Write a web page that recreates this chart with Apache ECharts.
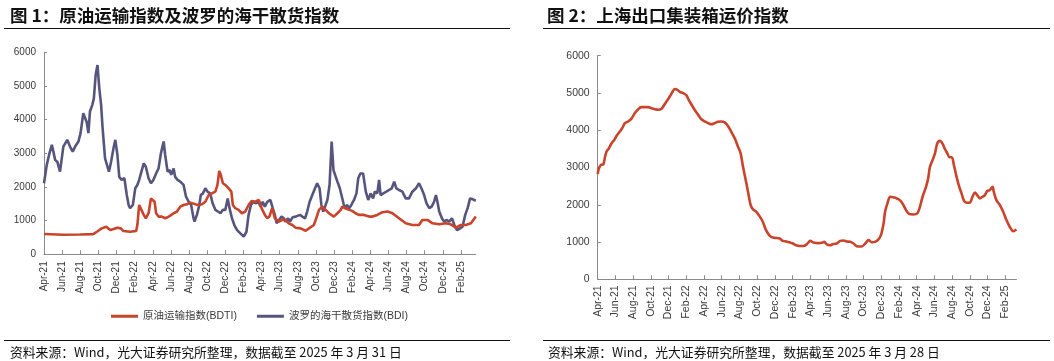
<!DOCTYPE html>
<html><head><meta charset="utf-8">
<script src="https://cdn.jsdelivr.net/npm/echarts@6/dist/echarts.min.js"></script>
<style>html,body{margin:0;padding:0;background:#fff}#c{width:1054px;height:361px}</style>
</head><body><div id="c"></div>
<script>
const xTickLabels = ['Apr-21','Jun-21','Aug-21','Oct-21','Dec-21','Feb-22','Apr-22','Jun-22','Aug-22','Oct-22','Dec-22','Feb-23','Apr-23','Jun-23','Aug-23','Oct-23','Dec-23','Feb-24','Apr-24','Jun-24','Aug-24','Oct-24','Dec-24','Feb-25'];
const yTickValues = [0,1000,2000,3000,4000,5000,6000];

const bdiDates = ['2021-04-01','2021-04-10','2021-04-19','2021-04-27','2021-05-02','2021-05-08','2021-05-15','2021-05-24','2021-05-30','2021-06-05','2021-06-11','2021-06-18','2021-06-27','2021-07-06','2021-07-14','2021-07-25','2021-08-02','2021-08-11','2021-08-17','2021-08-22','2021-08-28','2021-09-03','2021-09-11','2021-09-16','2021-09-22','2021-09-28','2021-10-04','2021-10-10','2021-10-15','2021-10-23','2021-10-29','2021-11-06','2021-11-13','2021-11-21','2021-11-27','2021-12-04','2021-12-10','2021-12-18','2021-12-27','2022-01-05','2022-01-11','2022-01-16','2022-01-25','2022-02-03','2022-02-10','2022-02-16','2022-02-22','2022-03-01','2022-03-08','2022-03-17','2022-03-25','2022-04-03','2022-04-12','2022-04-20','2022-04-28','2022-05-07','2022-05-12','2022-05-20','2022-05-27','2022-06-02','2022-06-10','2022-06-15','2022-06-23','2022-07-02','2022-07-07','2022-07-13','2022-07-21','2022-07-30','2022-08-08','2022-08-16','2022-08-19','2022-08-27','2022-09-05','2022-09-10','2022-09-17','2022-09-25','2022-10-02','2022-10-11','2022-10-19','2022-10-28','2022-11-07','2022-11-15','2022-11-23','2022-12-01','2022-12-09','2022-12-15','2022-12-23','2022-12-31','2023-01-10','2023-01-21','2023-02-02','2023-02-11','2023-02-18','2023-02-26','2023-03-05','2023-03-13','2023-03-20','2023-03-28','2023-04-05','2023-04-12','2023-04-20','2023-04-30','2023-05-08','2023-05-15','2023-05-21','2023-05-29','2023-06-07','2023-06-15','2023-06-20','2023-06-29','2023-07-05','2023-07-13','2023-07-24','2023-08-08','2023-08-16','2023-08-25','2023-09-02','2023-09-10','2023-09-19','2023-09-28','2023-10-05','2023-10-13','2023-10-19','2023-10-25','2023-11-01','2023-11-09','2023-11-16','2023-11-23','2023-11-29','2023-12-04','2023-12-12','2023-12-20','2023-12-26','2024-01-02','2024-01-07','2024-01-14','2024-01-21','2024-01-28','2024-02-07','2024-02-15','2024-02-21','2024-02-28','2024-03-07','2024-03-16','2024-03-24','2024-04-02','2024-04-10','2024-04-16','2024-04-24','2024-04-30','2024-05-05','2024-05-14','2024-05-24','2024-06-03','2024-06-12','2024-06-20','2024-06-27','2024-07-06','2024-07-17','2024-07-28','2024-08-09','2024-08-20','2024-09-02','2024-09-12','2024-09-20','2024-09-29','2024-10-07','2024-10-16','2024-10-24','2024-11-02','2024-11-08','2024-11-13','2024-11-19','2024-11-28','2024-12-05','2024-12-13','2024-12-22','2025-01-01','2025-01-09','2025-01-18','2025-01-28','2025-02-06','2025-02-15','2025-02-23','2025-03-01','2025-03-09','2025-03-20'];
const bdiValues = [2110,2650,3000,3250,3050,2800,2750,2455,2400,3200,3250,3400,3200,3050,3200,3350,3600,4190,4240,3940,3600,4240,4440,4630,5330,5620,4930,4440,3740,2850,2800,2455,2750,3150,3400,2950,2300,2210,2260,1760,1465,1370,1465,1960,2060,2210,2210,2700,2600,2260,2110,2210,2400,2550,3000,3350,2950,2455,2500,2360,2550,2300,2210,2160,2160,2060,1710,1560,1465,1070,970,1170,1465,1760,1810,1960,1860,1810,1515,1320,1270,1220,1320,1320,1660,1370,1070,870,720,620,525,670,1170,1465,1560,1515,1560,1415,1560,1415,1560,1615,1370,1170,920,1020,1120,1070,970,1070,970,1090,1120,1170,1120,1070,1270,1560,1760,1960,2110,1960,1465,1270,1415,1615,2060,3350,2500,2455,2160,1960,1910,1515,1370,1465,1370,1465,1615,1810,2260,2400,2400,1860,1615,1810,1660,1860,1810,2210,1760,1810,1860,1910,1960,2160,1960,1910,1860,1660,1660,1860,1960,2110,1960,1760,1515,1370,1415,1560,1760,1560,1270,1070,970,1020,970,1070,870,720,770,820,1170,1370,1660,1640,1590];

const bdtiDates = ['2021-04-01','2021-06-05','2021-07-31','2021-09-14','2021-09-26','2021-10-12','2021-10-27','2021-11-10','2021-11-21','2021-12-04','2021-12-15','2021-12-24','2022-01-16','2022-02-06','2022-02-10','2022-02-16','2022-02-22','2022-03-01','2022-03-08','2022-03-17','2022-03-25','2022-04-01','2022-04-07','2022-04-12','2022-04-20','2022-05-01','2022-05-12','2022-05-20','2022-05-29','2022-06-10','2022-06-21','2022-07-02','2022-07-13','2022-07-24','2022-08-05','2022-08-22','2022-09-02','2022-09-14','2022-09-25','2022-10-06','2022-10-17','2022-10-28','2022-11-05','2022-11-11','2022-11-16','2022-11-23','2022-12-01','2022-12-12','2022-12-21','2022-12-26','2023-01-04','2023-01-15','2023-01-26','2023-02-07','2023-02-18','2023-02-28','2023-03-10','2023-03-22','2023-04-01','2023-04-12','2023-04-20','2023-04-27','2023-05-06','2023-05-15','2023-05-29','2023-06-09','2023-06-20','2023-07-01','2023-07-13','2023-07-24','2023-08-10','2023-08-27','2023-09-08','2023-09-24','2023-10-02','2023-10-11','2023-10-22','2023-11-03','2023-11-14','2023-11-30','2023-12-12','2023-12-23','2023-12-28','2024-01-07','2024-01-21','2024-02-01','2024-02-12','2024-02-23','2024-03-10','2024-03-27','2024-04-08','2024-04-24','2024-05-11','2024-05-28','2024-06-14','2024-07-06','2024-07-28','2024-08-20','2024-09-12','2024-09-23','2024-10-10','2024-10-27','2024-11-19','2024-12-11','2024-12-27','2025-01-14','2025-01-31','2025-02-17','2025-03-04','2025-03-20'];
const bdtiValues = [605,580,590,600,670,770,820,720,750,790,770,690,670,690,870,1465,1485,1170,1070,1220,1660,1710,1560,1220,1120,1120,1070,1100,1150,1220,1270,1415,1465,1485,1535,1485,1465,1485,1560,1760,1810,1860,2060,2475,2360,2110,2060,1960,1860,1465,1370,1320,1220,1270,1465,1580,1560,1615,1370,1170,1070,1120,1370,1070,970,1020,1020,920,870,790,770,700,770,870,1070,1320,1415,1320,1220,1120,1220,1320,1415,1370,1320,1290,1220,1170,1170,1120,1120,1170,1250,1270,1220,1070,920,870,870,1020,1020,920,890,920,890,790,870,870,920,1120];

const scfiDates = ['2021-04-01','2021-04-05','2021-04-12','2021-04-20','2021-04-26','2021-05-01','2021-05-09','2021-05-18','2021-05-27','2021-06-05','2021-06-16','2021-06-24','2021-07-03','2021-07-14','2021-07-26','2021-08-07','2021-08-18','2021-08-29','2021-09-11','2021-09-22','2021-10-03','2021-10-14','2021-10-26','2021-11-05','2021-11-13','2021-11-24','2021-12-05','2021-12-13','2021-12-22','2022-01-01','2022-01-09','2022-01-20','2022-02-01','2022-02-09','2022-02-17','2022-02-28','2022-03-11','2022-03-22','2022-04-03','2022-04-15','2022-04-26','2022-05-07','2022-05-18','2022-05-30','2022-06-11','2022-06-22','2022-07-03','2022-07-15','2022-07-26','2022-08-05','2022-08-13','2022-08-21','2022-08-30','2022-09-09','2022-09-17','2022-09-28','2022-10-09','2022-10-20','2022-11-01','2022-11-13','2022-11-24','2022-12-05','2022-12-17','2022-12-28','2023-01-09','2023-01-20','2023-02-02','2023-02-13','2023-02-24','2023-03-08','2023-03-19','2023-04-01','2023-04-12','2023-04-29','2023-05-10','2023-05-18','2023-05-27','2023-06-08','2023-06-19','2023-07-01','2023-07-12','2023-07-23','2023-08-04','2023-08-16','2023-08-27','2023-09-08','2023-09-25','2023-10-07','2023-10-18','2023-10-29','2023-11-10','2023-11-21','2023-11-30','2023-12-09','2023-12-14','2023-12-22','2024-01-01','2024-01-12','2024-01-24','2024-02-04','2024-02-13','2024-02-24','2024-03-06','2024-03-20','2024-04-03','2024-04-12','2024-04-21','2024-05-03','2024-05-10','2024-05-16','2024-05-25','2024-06-03','2024-06-11','2024-06-20','2024-06-29','2024-07-07','2024-07-15','2024-07-22','2024-07-30','2024-08-07','2024-08-16','2024-08-25','2024-09-03','2024-09-11','2024-09-20','2024-10-01','2024-10-10','2024-10-18','2024-10-26','2024-11-05','2024-11-14','2024-11-22','2024-11-30','2024-12-09','2024-12-18','2024-12-22','2025-01-01','2025-01-13','2025-01-24','2025-02-05','2025-02-16','2025-02-28','2025-03-09'];
const scfiValues = [2825,2980,3070,3085,3290,3430,3515,3650,3740,3850,3965,4055,4190,4235,4320,4460,4565,4620,4620,4620,4590,4565,4550,4565,4640,4770,4905,5015,5105,5085,5030,4995,4940,4815,4710,4565,4415,4295,4235,4190,4160,4190,4225,4235,4210,4115,3965,3785,3560,3380,3020,2710,2350,1990,1875,1810,1695,1545,1320,1175,1120,1110,1095,1030,1015,995,960,915,895,895,940,1030,985,970,980,1005,935,915,950,960,1030,1040,1015,1005,960,890,880,960,1050,995,1005,1065,1185,1500,1810,2035,2215,2200,2170,2125,2035,1875,1750,1740,1765,1945,2215,2485,2710,3020,3200,3380,3650,3715,3635,3490,3380,3275,3275,3070,2755,2485,2305,2110,2055,2055,2215,2325,2260,2170,2215,2260,2370,2395,2485,2350,2125,1990,1810,1590,1410,1290,1335];

const seriesNames = ['原油运输指数(BDTI)', '波罗的海干散货指数(BDI)', '上海出口集装箱运价指数'];
const titles = ['图 1：原油运输指数及波罗的海干散货指数', '图 2：上海出口集装箱运价指数'];
const sources = ['资料来源：Wind，光大证券研究所整理，数据截至 2025 年 3 月 31 日', '资料来源：Wind，光大证券研究所整理，数据截至 2025 年 3 月 28 日'];

function monthOffset(d) {
  const p = d.split('-').map(Number);
  return (p[0] - 2021) * 12 + (p[1] - 4) + (p[2] - 1) / 30;
}
function pairs(dates, vals) { return dates.map((d, i) => [monthOffset(d), vals[i]]); }

const RED = '#C9442A', PURPLE = '#55557E', AXIS = '#8a8a8a', LABEL = '#3a3a3a';
const LATIN = 'Liberation Sans, Arial, Noto Sans CJK SC, sans-serif';
const CJK = 'Noto Sans CJK SC, sans-serif';

const leftMax = Math.max(monthOffset(bdiDates[bdiDates.length - 1]), monthOffset(bdtiDates[bdtiDates.length - 1]));
const rightMax = monthOffset(scfiDates[scfiDates.length - 1]);

function xAxisCfg(gi, max, fs, margin) {
  return {
    type: 'value', gridIndex: gi, min: 0, max: max, interval: 2,
    axisLine: { lineStyle: { color: AXIS, width: 1 } },
    axisTick: { show: true, inside: true, length: 4, lineStyle: { color: AXIS } },
    splitLine: { show: false },
    axisLabel: {
      rotate: 90, fontSize: fs, color: LABEL, fontFamily: LATIN, margin: margin,
      showMaxLabel: false,
      formatter: v => { const k = Math.round(v / 2); return Math.abs(v - 2 * k) < 1e-6 && k < xTickLabels.length ? xTickLabels[k] : ''; }
    }
  };
}
function yAxisCfg(gi, fs, margin) {
  return {
    type: 'value', gridIndex: gi, min: yTickValues[0], max: yTickValues[yTickValues.length - 1], interval: 1000,
    axisLine: { show: true, lineStyle: { color: AXIS, width: 1 } },
    axisTick: { show: true, inside: true, length: 3, lineStyle: { color: AXIS } },
    splitLine: { show: false },
    axisLabel: { fontSize: fs, color: LABEL, fontFamily: LATIN, margin: margin, formatter: v => String(v) }
  };
}

const chart = echarts.init(document.getElementById('c'), null, { renderer: 'canvas' });
chart.setOption({
  animation: false,
  backgroundColor: '#fff',
  title: [
    { text: titles[0], left: 5, top: 2, textStyle: { fontSize: 17.5, fontWeight: 'bold', color: '#111', fontFamily: CJK } },
    { text: titles[1], left: 542, top: 2, textStyle: { fontSize: 17.5, fontWeight: 'bold', color: '#111', fontFamily: CJK } },
    { text: sources[0], left: 5, top: 341, textStyle: { fontSize: 12.8, fontWeight: 'normal', color: '#111', fontFamily: CJK } },
    { text: sources[1], left: 543, top: 341, textStyle: { fontSize: 12.8, fontWeight: 'normal', color: '#111', fontFamily: CJK } }
  ],
  graphic: [
    { type: 'line', shape: { x1: 4, y1: 28.5, x2: 510, y2: 28.5 }, style: { stroke: '#111', lineWidth: 1 } },
    { type: 'line', shape: { x1: 543, y1: 28.5, x2: 1050, y2: 28.5 }, style: { stroke: '#111', lineWidth: 1 } },
    { type: 'line', shape: { x1: 4, y1: 340.5, x2: 510, y2: 340.5 }, style: { stroke: '#111', lineWidth: 1 } },
    { type: 'line', shape: { x1: 543, y1: 340.5, x2: 1050, y2: 340.5 }, style: { stroke: '#111', lineWidth: 1 } }
  ],
  legend: {
    data: [seriesNames[0], seriesNames[1]],
    left: 106, top: 306, icon: 'rect', itemWidth: 27, itemHeight: 3, itemGap: 20,
    textStyle: { fontSize: 10.5, color: LABEL, fontFamily: LATIN }
  },
  grid: [
    { left: 44, top: 52.3, width: leftMax * 9.065, height: 202, containLabel: false },
    { left: 597.7, top: 55.7, width: rightMax * 8.86, height: 223.6, containLabel: false }
  ],
  xAxis: [xAxisCfg(0, leftMax, 10, 7), xAxisCfg(1, rightMax, 10.5, 6)],
  yAxis: [yAxisCfg(0, 10, 8), yAxisCfg(1, 10.5, 8)],
  series: [
    { name: seriesNames[0], type: 'line', xAxisIndex: 0, yAxisIndex: 0, data: pairs(bdtiDates, bdtiValues), showSymbol: false, symbol: 'none', lineStyle: { color: RED, width: 2.6 }, itemStyle: { color: RED }, z: 3 },
    { name: seriesNames[1], type: 'line', xAxisIndex: 0, yAxisIndex: 0, data: pairs(bdiDates, bdiValues), showSymbol: false, symbol: 'none', lineStyle: { color: PURPLE, width: 2.6 }, itemStyle: { color: PURPLE }, z: 2 },
    { name: seriesNames[2], type: 'line', xAxisIndex: 1, yAxisIndex: 1, data: pairs(scfiDates, scfiValues), showSymbol: false, symbol: 'none', smooth: 0.3, lineStyle: { color: RED, width: 2.6 }, itemStyle: { color: RED } }
  ]
});
</script></body></html>
